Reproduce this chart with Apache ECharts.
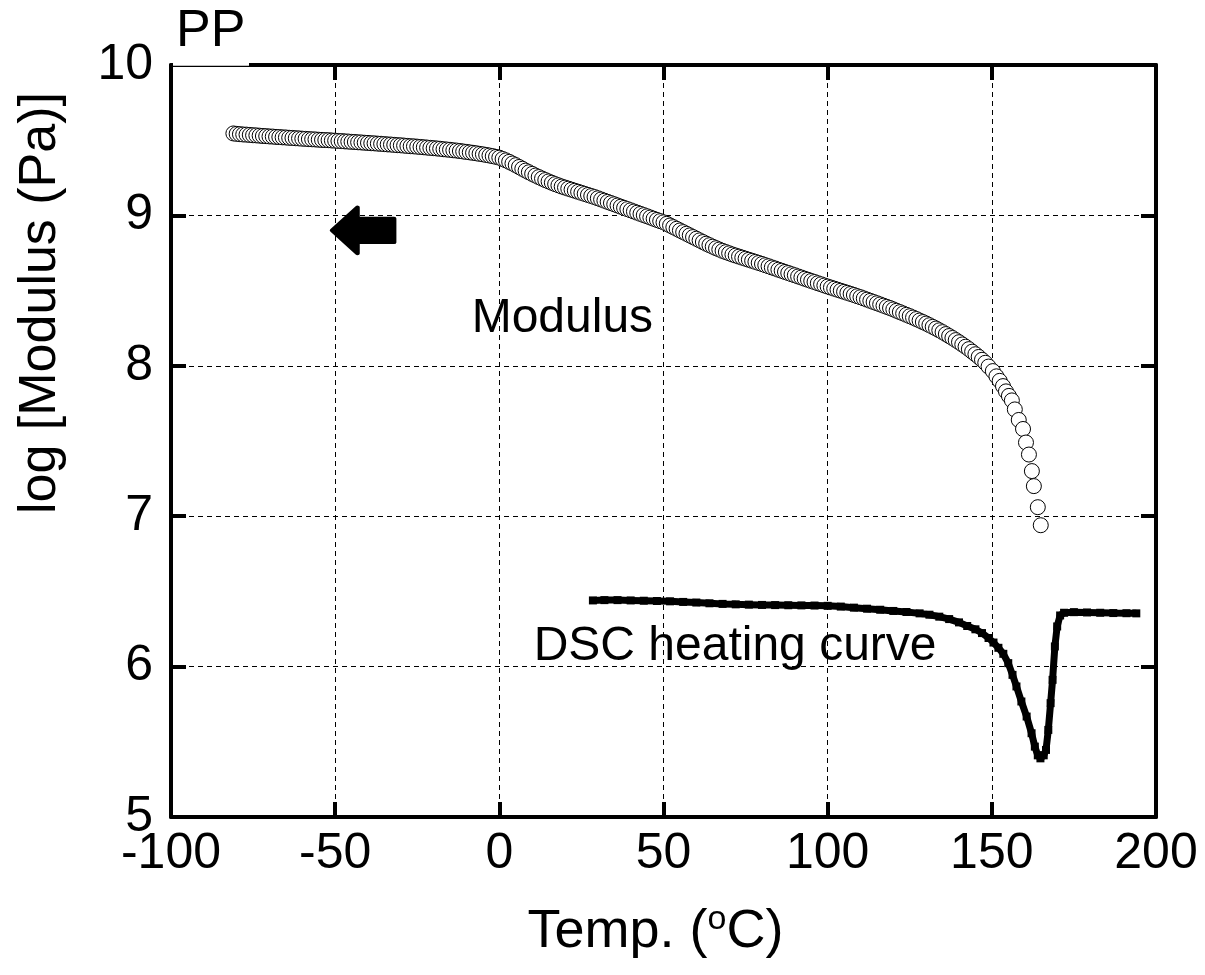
<!DOCTYPE html>
<html>
<head>
<meta charset="utf-8">
<script src="https://cdn.jsdelivr.net/npm/echarts@6/dist/echarts.min.js"></script>
<style>
html,body{margin:0;padding:0;background:#fff;}
#chart{width:1205px;height:975px;}
</style>
</head>
<body>
<div id="chart"></div>
<script>
// ---- Data ----
var xTicks = [-100, -50, 0, 50, 100, 150, 200];
var yTicks = [5, 6, 7, 8, 9, 10];

// Modulus (log Pa) vs temperature (°C)
var modTemp = [
-81,-80,-79,-78,-77,-76,-75,-74,-73,-72,-71,-70,-69,-68,-67,-66,-65,-64,-63,-62,-61,-60,
-59,-58,-57,-56,-55,-54,-53,-52,-51,-50,-49,-48,-47,-46,-45,-44,-43,-42,-41,-40,
-39,-38,-37,-36,-35,-34,-33,-32,-31,-30,-29,-28,-27,-26,-25,-24,-23,-22,-21,-20,
-19,-18,-17,-16,-15,-14,-13,-12,-11,-10,-9,-8,-7,-6,-5,-4,-3,-2,-1,0,
1,2,3,4,5,6,7,8,9,10,11,12,13,14,15,16,17,18,19,20,
21,22,23,24,25,26,27,28,29,30,31,32,33,34,35,36,37,38,39,40,
41,42,43,44,45,46,47,48,49,50,51,52,53,54,55,56,57,58,59,60,
61,62,63,64,65,66,67,68,69,70,71,72,73,74,75,76,77,78,79,80,
81,82,83,84,85,86,87,88,89,90,91,92,93,94,95,96,97,98,99,100,
101,102,103,104,105,106,107,108,109,110,111,112,113,114,115,116,117,118,119,120,
121,122,123,124,125,126,127,128,129,130,131,132,133,134,135,136,137,138,139,140,
141,142,143,144,145,146,147,148,149,
150.3,151.4,152.4,153.4,154.3,155.2,156.1,157.0,158.2,159.5,160.4,161.3,162.2,162.8,164.0,164.9
];
var modValue = [
9.545,9.542,9.540,9.538,9.537,9.535,9.533,9.532,9.530,9.528,9.527,9.525,9.524,9.522,9.521,9.519,9.518,9.516,9.515,9.513,9.512,9.510,
9.509,9.507,9.506,9.505,9.503,9.502,9.501,9.500,9.498,9.497,9.495,9.494,9.492,9.491,9.489,9.488,9.486,9.485,9.483,9.482,
9.480,9.479,9.477,9.476,9.474,9.472,9.471,9.469,9.467,9.466,9.464,9.462,9.460,9.459,9.457,9.455,9.453,9.451,9.449,9.447,
9.445,9.443,9.440,9.438,9.436,9.433,9.431,9.428,9.425,9.422,9.419,9.416,9.413,9.409,9.406,9.402,9.398,9.394,9.389,9.384,
9.375,9.366,9.356,9.345,9.334,9.322,9.310,9.298,9.287,9.276,9.265,9.255,9.245,9.235,9.226,9.217,9.208,9.200,9.192,9.185,
9.178,9.171,9.164,9.157,9.150,9.143,9.136,9.129,9.122,9.114,9.106,9.098,9.090,9.082,9.074,9.066,9.058,9.050,9.042,9.034,
9.026,9.018,9.010,9.002,8.994,8.986,8.978,8.970,8.962,8.954,8.944,8.933,8.922,8.911,8.900,8.889,8.878,8.867,8.856,8.845,
8.834,8.823,8.812,8.802,8.792,8.782,8.773,8.764,8.756,8.748,8.740,8.733,8.726,8.719,8.712,8.705,8.698,8.691,8.684,8.677,
8.669,8.662,8.654,8.647,8.639,8.632,8.624,8.617,8.609,8.602,8.594,8.587,8.579,8.572,8.564,8.557,8.549,8.542,8.534,8.527,
8.520,8.513,8.506,8.499,8.492,8.485,8.478,8.471,8.463,8.456,8.448,8.440,8.432,8.424,8.416,8.408,8.400,8.392,8.384,8.375,
8.366,8.357,8.348,8.339,8.330,8.321,8.311,8.301,8.291,8.281,8.270,8.259,8.248,8.236,8.224,8.211,8.198,8.185,8.171,8.157,
8.142,8.127,8.111,8.094,8.077,8.059,8.040,8.020,7.995,
7.965,7.930,7.900,7.865,7.830,7.800,7.770,7.710,7.640,7.580,7.490,7.410,7.300,7.200,7.060,6.940
];

// DSC heating curve (plotted on same scale)
var dscTemp = [
28.5,32,36,40,44,48,52,56,60,64,68,72,76,80,84,88,92,96,100,104,108,112,116,120,124,128,
131,134,137,140,142.5,145,147,149,150.5,152,153.5,155,156.3,157.5,159,160.6,162.1,163.1,164,164.8,
165.8,166.5,167.2,167.9,168.5,169.2,169.9,170.8,172,175,179,183,187,191,194
];
var dscValue = [
6.440,6.442,6.442,6.440,6.438,6.436,6.434,6.430,6.426,6.421,6.417,6.414,6.412,6.410,6.409,6.408,6.407,6.406,6.404,6.399,6.392,6.385,6.378,6.370,6.363,6.354,
6.345,6.332,6.316,6.294,6.270,6.248,6.223,6.190,6.160,6.125,6.085,6.023,5.945,5.868,5.768,5.668,5.557,5.468,5.410,5.390,
5.410,5.446,5.579,5.757,5.912,6.134,6.267,6.340,6.358,6.362,6.360,6.358,6.356,6.355,6.354
];

var annotations = ['Modulus', 'DSC heating curve'];
var plotTitle = 'PP';
var yTitle = 'log [Modulus (Pa)]';

// ---- Build ----
var FONT = '"Liberation Sans", Arial, Helvetica, sans-serif';
function pairs(xs, ys){ var r=[]; for (var i=0;i<xs.length;i++) r.push([xs[i], ys[i]]); return r; }

var chart = echarts.init(document.getElementById('chart'), null, {renderer:'canvas'});

var axisLineStyle = {color:'#000', width:4};
var tickStyle = {show:true, inside:true, length:15, lineStyle:{color:'#000', width:4}};
var gridLine = {show:true, lineStyle:{color:'#000', width:1, type:[5,4]}};

var option = {
  animation:false,
  backgroundColor:'#fff',
  textStyle:{fontFamily:FONT},
  grid:{left:171, top:65, right:49, bottom:158, containLabel:false, show:false},
  xAxis:[{
    type:'value', position:'bottom', min:xTicks[0], max:xTicks[xTicks.length-1], interval:50,
    axisLine:{show:true, onZero:false, lineStyle:axisLineStyle},
    axisTick:tickStyle,
    splitLine:gridLine,
    axisLabel:{show:true, interval:0, margin:12, color:'#000', fontSize:50, fontFamily:FONT},
    name: 'Temp. ({sup|o}C)',
    nameLocation:'middle', nameGap:86,
    nameTextStyle:{color:'#000', fontSize:54, fontFamily:FONT, padding:[0,16,0,0],
      rich:{sup:{fontSize:34, verticalAlign:'top', padding:[0,0,24,0], fontFamily:FONT, color:'#000'}}}
  },{
    type:'value', position:'top', min:xTicks[0], max:xTicks[xTicks.length-1], interval:50,
    axisLine:{show:true, onZero:false, lineStyle:axisLineStyle},
    axisTick:tickStyle, splitLine:{show:false}, axisLabel:{show:false}
  }],
  yAxis:[{
    type:'value', position:'left', min:yTicks[0], max:yTicks[yTicks.length-1], interval:1,
    axisLine:{show:true, onZero:false, lineStyle:axisLineStyle},
    axisTick:tickStyle,
    splitLine:gridLine,
    axisLabel:{show:true, margin:18, color:'#000', fontSize:50, fontFamily:FONT},
    name: yTitle, nameLocation:'middle', nameGap:104, nameRotate:90,
    nameTextStyle:{color:'#000', fontSize:52, fontFamily:FONT, padding:[0,0,0,276]}
  },{
    type:'value', position:'right', min:yTicks[0], max:yTicks[yTicks.length-1], interval:1,
    axisLine:{show:true, onZero:false, lineStyle:axisLineStyle},
    axisTick:tickStyle, splitLine:{show:false}, axisLabel:{show:false}
  }],
  series:[{
    name:'DSC', type:'line', data:pairs(dscTemp, dscValue),
    symbol:'rect', symbolSize:8, showAllSymbol:true,
    lineStyle:{color:'#000', width:7}, itemStyle:{color:'#000'},
    z:3,
    markPoint:{
      symbol:'path://M0,25 L27,0 L27,12 L66,12 L66,38 L27,38 L27,50 Z',
      symbolSize:[62,46], symbolKeepAspect:false,
      itemStyle:{color:'#000', borderColor:'#000', borderWidth:4, borderJoin:'round'},
      label:{show:false},
      data:[{coord:[-41.5, 8.9]}]
    }
  },{
    name:'Modulus', type:'scatter', data:pairs(modTemp, modValue),
    symbol:'circle', symbolSize:15,
    itemStyle:{color:'#fff', borderColor:'#000', borderWidth:1, opacity:1},
    z:4
  },{
    name:'labels', type:'scatter', symbolSize:0, silent:true, z:5,
    itemStyle:{opacity:1, color:'#000'},
    data:[[19.2, 8.31, annotations[0]], [71.8, 6.13, annotations[1]]],
    label:{show:true, position:'inside', color:'#000', opacity:1, fontSize:48, fontFamily:FONT,
      textBorderWidth:0,
      formatter:function(p){return p.value[2];}}
  }],
  graphic:[
    {type:'rect', z:100, shape:{x:173, y:58, width:76, height:7.8}, style:{fill:'#fff'}},
    {type:'text', z:101, x:176, y:32, style:{text:plotTitle, font:'52px '+FONT, fill:'#000', verticalAlign:'middle', align:'left'}}
  ]
};
chart.setOption(option);
</script>
</body>
</html>
